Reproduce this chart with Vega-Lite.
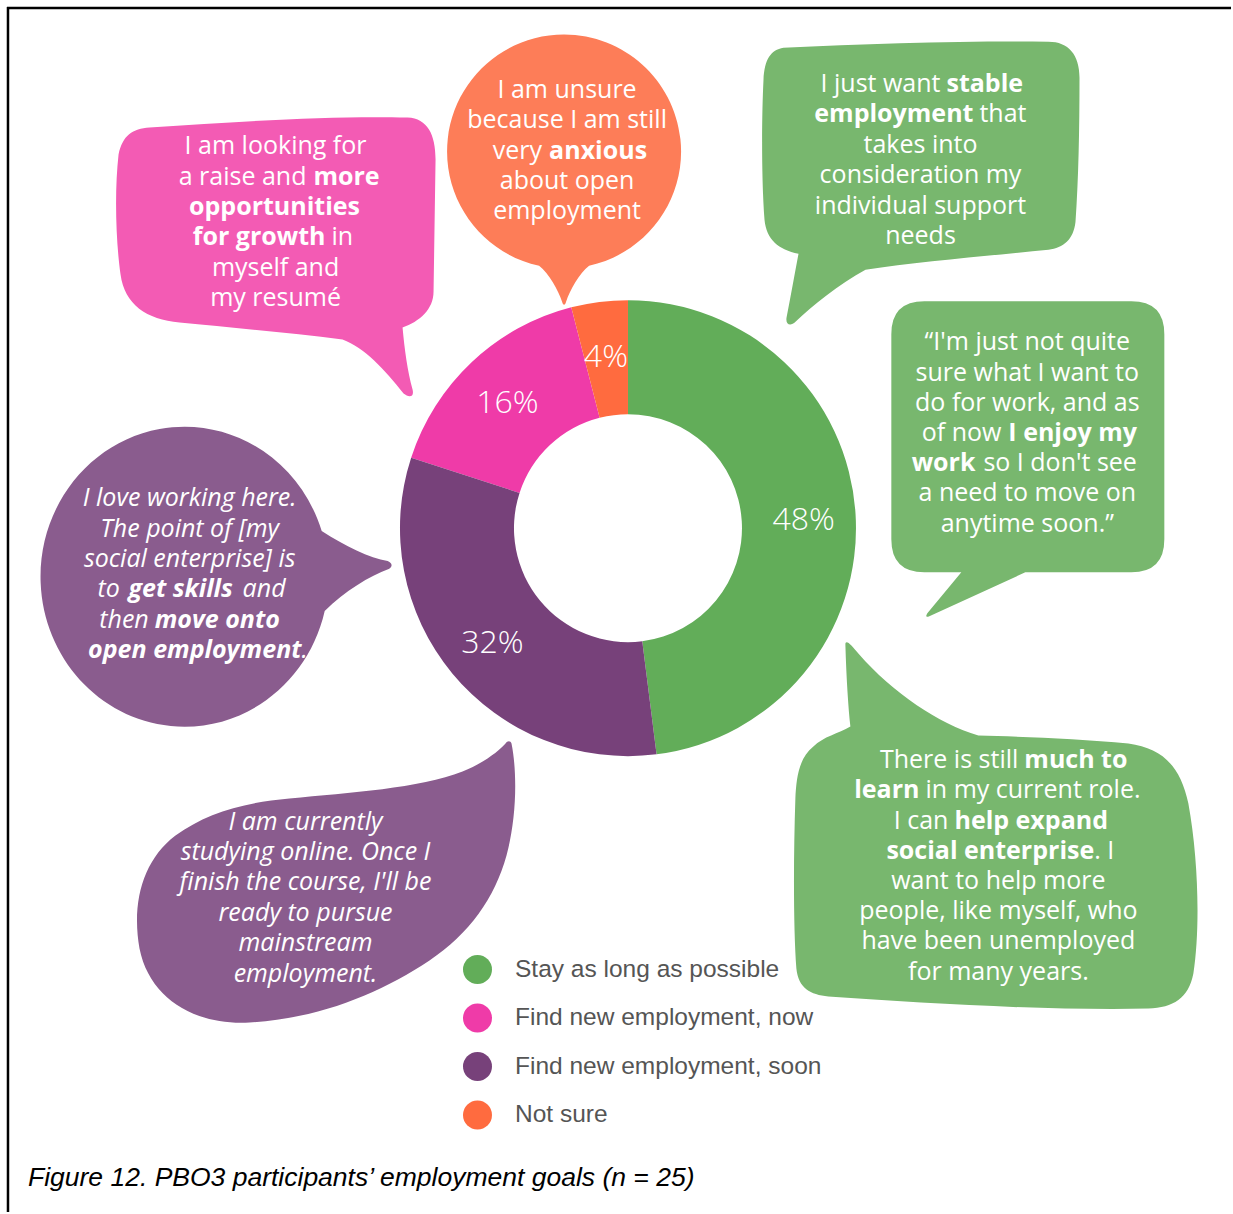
{
  "$schema": "https://vega.github.io/schema/vega-lite/v6.json",
  "width": 1233,
  "height": 1214,
  "autosize": {"type": "fit", "contains": "padding"},
  "padding": 0,
  "background": "white",
  "config": {
    "view": {"stroke": null},
    "axis": {"disable": true},
    "text": {"font": "Open Sans", "fontSize": 25, "color": "white", "lineHeight": 30.4, "baseline": "alphabetic", "align": "center"},
    "point": {"filled": true, "opacity": 1, "size": 4, "strokeWidth": 0}
  },
  "datasets": {
    "goals": [
      {"goal": "Stay as long as possible", "share": 0.48},
      {"goal": "Find new employment, now", "share": 0.16},
      {"goal": "Find new employment, soon", "share": 0.32},
      {"goal": "Not sure", "share": 0.04}
    ]
  },
  "layer": [
    {"data": {"values": [{}]}, "mark": {"type": "rule", "color": "black", "strokeWidth": 2.5},
     "encoding": {"x": {"datum": 7, "type": "quantitative", "scale": {"domain": [0, 1233], "nice": false, "zero": false}},
                  "x2": {"datum": 1233},
                  "y": {"datum": 8, "type": "quantitative", "scale": {"domain": [0, 1214], "nice": false, "zero": false, "reverse": true}}}},
    {"data": {"values": [{}]}, "mark": {"type": "rule", "color": "black", "strokeWidth": 2.5},
     "encoding": {"x": {"datum": 8}, "y": {"datum": 7}, "y2": {"datum": 1214}}},

    {"data": {"values": [{}]}, "mark": {"type": "point", "color": "#F35BB4",
      "shape": "M -125 -127 C -25 -134 65 -139 133 -137 C 153 -136 161 -120 161 -95 L 159 37 C 159 55 145 67 128 73 C 130 95 133 117 138 135 C 140 143 134 143 129 139 C 110 115 90 93 68 85 C 15 78 -45 73 -95 68 C -128 65 -150 50 -154 20 C -159 -15 -160 -65 -156 -100 C -152 -119 -142 -126 -125 -127 Z"},
     "encoding": {"x": {"datum": 275}, "y": {"datum": 255}}},
    {"data": {"values": [{}]}, "mark": {"type": "point", "color": "#FD7D58",
      "shape": "M -25 114 A 117 117 0 1 1 25 114 C 15 122 6 138 2 150 C 1 154 -1 154 -2 150 C -6 138 -15 122 -25 114 Z"},
     "encoding": {"x": {"datum": 565}, "y": {"datum": 152}}},
    {"data": {"values": [{}]}, "mark": {"type": "point", "color": "#78B76E",
      "shape": "M -137 -112 C -52 -116 48 -119 128 -118 C 148 -118 159 -105 159 -82 C 159 -30 158 20 155 62 C 153 80 143 88 128 90 C 68 96 -2 102 -55 110 C -82 125 -107 145 -125 162 C -130 167 -135 165 -134 158 C -130 138 -126 115 -122 94 C -142 90 -154 80 -156 60 C -159 20 -159 -40 -157 -80 C -156 -100 -150 -110 -137 -112 Z"},
     "encoding": {"x": {"datum": 922}, "y": {"datum": 160}}},
    {"data": {"values": [{}]}, "mark": {"type": "point", "color": "#78B76E",
      "shape": "M -103 -135 L 104 -135 Q 137 -135 137 -102 L 137 103 Q 137 136 104 136 L -2 136 L -98 180 Q -103 182 -100 177 L -66 136 L -103 136 Q -136 136 -136 103 L -136 -102 Q -136 -135 -103 -135 Z"},
     "encoding": {"x": {"datum": 1029}, "y": {"datum": 437}}},
    {"data": {"values": [{}]}, "mark": {"type": "point", "color": "#8A5C8E",
      "shape": "M 140 35 A 144 150 0 1 1 137 -45 C 160 -30 185 -18 203 -15 C 208 -13 208 -9 204 -7 C 185 0 160 15 140 35 Z"},
     "encoding": {"x": {"datum": 185}, "y": {"datum": 577}}},
    {"data": {"values": [{}]}, "mark": {"type": "point", "color": "#8A5C8E",
      "shape": "M 206 -155 C 212 -125 211 -80 201 -43 C 189 0 164 35 124 62 C 74 95 14 120 -56 124 C -111 127 -156 100 -166 50 C -174 5 -163 -38 -130 -63 C -100 -85 -63 -96 -16 -100 C 44 -106 114 -110 157 -127 C 179 -136 194 -148 200 -155 C 202 -158 205 -158 206 -155 Z"},
     "encoding": {"x": {"datum": 306}, "y": {"datum": 900}}},
    {"data": {"values": [{}]}, "mark": {"type": "point", "color": "#78B76E",
      "shape": "M -153 -204 C -152 -170 -150 -140 -148 -122 C -160 -115 -175 -112 -185 -102 C -200 -90 -202 -70 -203 -50 C -205 10 -205 80 -202 120 C -200 140 -188 146 -170 148 C -70 155 50 162 150 160 C 175 159 190 150 195 125 C 202 80 200 10 190 -45 C 182 -82 165 -100 130 -105 C 80 -110 20 -112 -20 -113 C -60 -125 -105 -155 -140 -195 C -147 -204 -153 -210 -153 -204 Z"},
     "encoding": {"x": {"datum": 1000}, "y": {"datum": 850}}},

    {"data": {"name": "goals"}, "mark": {"type": "arc", "innerRadius": 114, "outerRadius": 228},
     "encoding": {
       "x": {"datum": 629}, "y": {"datum": 529},
       "theta": {"field": "share", "type": "quantitative", "stack": true},
       "order": {"field": "share", "sort": "descending"},
       "color": {"field": "goal", "type": "nominal",
         "scale": {"domain": ["Stay as long as possible", "Find new employment, now", "Find new employment, soon", "Not sure"],
                   "range": ["#62AD59", "#EF3BA8", "#77417A", "#FF6B3F"]},
         "legend": {"title": null, "orient": "none", "legendX": 463, "legendY": 955, "symbolType": "circle", "symbolSize": 841,
                    "symbolStrokeWidth": 0, "symbolOpacity": 1, "labelFont": "Liberation Sans", "labelFontSize": 24.5,
                    "labelColor": "#555555", "labelOffset": 23, "rowPadding": 19.5, "labelLimit": 500}}
     }},
    {"data": {"name": "goals"}, "mark": {"type": "text", "radius": 176, "fontSize": 32, "fontWeight": 300, "baseline": "middle", "dy": 3},
     "encoding": {
       "x": {"datum": 629}, "y": {"datum": 529},
       "theta": {"field": "share", "type": "quantitative", "stack": true},
       "order": {"field": "share", "sort": "descending"},
       "text": {"field": "share", "type": "quantitative", "format": ".0%"}
     }},

    {"data": {"values": [{}]}, "mark": {"type": "text", "text": "I am looking for"}, "encoding": {"x": {"datum": 276}, "y": {"datum": 154}}},
    {"data": {"values": [{}]}, "mark": {"type": "text", "text": ["myself and", "my resumé"]}, "encoding": {"x": {"datum": 276}, "y": {"datum": 276}}},
    {"data": {"values": [{}]}, "mark": {"type": "text", "fontWeight": "bold", "text": "opportunities"}, "encoding": {"x": {"datum": 275}, "y": {"datum": 215}}},
    {"data": {"values": [{}]}, "mark": {"type": "text", "align": "right", "text": "a raise and"}, "encoding": {"x": {"datum": 307}, "y": {"datum": 185}}},
    {"data": {"values": [{}]}, "mark": {"type": "text", "align": "left", "fontWeight": "bold", "text": "more"}, "encoding": {"x": {"datum": 314}, "y": {"datum": 185}}},
    {"data": {"values": [{}]}, "mark": {"type": "text", "align": "right", "fontWeight": "bold", "text": "for growth"}, "encoding": {"x": {"datum": 326}, "y": {"datum": 245}}},
    {"data": {"values": [{}]}, "mark": {"type": "text", "align": "left", "text": "in"}, "encoding": {"x": {"datum": 332}, "y": {"datum": 245}}},

    {"data": {"values": [{}]}, "mark": {"type": "text", "text": ["I am unsure", "because I am still"]}, "encoding": {"x": {"datum": 568}, "y": {"datum": 98}}},
    {"data": {"values": [{}]}, "mark": {"type": "text", "text": ["about open", "employment"]}, "encoding": {"x": {"datum": 568}, "y": {"datum": 189}}},
    {"data": {"values": [{}]}, "mark": {"type": "text", "align": "right", "text": "very"}, "encoding": {"x": {"datum": 543}, "y": {"datum": 159}}},
    {"data": {"values": [{}]}, "mark": {"type": "text", "align": "left", "fontWeight": "bold", "text": "anxious"}, "encoding": {"x": {"datum": 550}, "y": {"datum": 159}}},

    {"data": {"values": [{}]}, "mark": {"type": "text", "text": ["takes into", "consideration my", "individual support", "needs"]}, "encoding": {"x": {"datum": 922}, "y": {"datum": 153}}},
    {"data": {"values": [{}]}, "mark": {"type": "text", "align": "right", "text": "I just want"}, "encoding": {"x": {"datum": 942}, "y": {"datum": 92}}},
    {"data": {"values": [{}]}, "mark": {"type": "text", "align": "left", "fontWeight": "bold", "text": "stable"}, "encoding": {"x": {"datum": 948}, "y": {"datum": 92}}},
    {"data": {"values": [{}]}, "mark": {"type": "text", "align": "right", "fontWeight": "bold", "text": "employment"}, "encoding": {"x": {"datum": 975}, "y": {"datum": 122}}},
    {"data": {"values": [{}]}, "mark": {"type": "text", "align": "left", "text": "that"}, "encoding": {"x": {"datum": 981}, "y": {"datum": 122}}},

    {"data": {"values": [{}]}, "mark": {"type": "text", "text": ["“I'm just not quite", "sure what I want to", "do for work, and as"]}, "encoding": {"x": {"datum": 1029}, "y": {"datum": 351}}},
    {"data": {"values": [{}]}, "mark": {"type": "text", "text": ["a need to move on", "anytime soon.”"]}, "encoding": {"x": {"datum": 1029}, "y": {"datum": 502}}},
    {"data": {"values": [{}]}, "mark": {"type": "text", "align": "right", "text": "of now"}, "encoding": {"x": {"datum": 1003}, "y": {"datum": 442}}},
    {"data": {"values": [{}]}, "mark": {"type": "text", "align": "left", "fontWeight": "bold", "text": "I enjoy my"}, "encoding": {"x": {"datum": 1010}, "y": {"datum": 442}}},
    {"data": {"values": [{}]}, "mark": {"type": "text", "align": "right", "fontWeight": "bold", "text": "work"}, "encoding": {"x": {"datum": 977}, "y": {"datum": 472}}},
    {"data": {"values": [{}]}, "mark": {"type": "text", "align": "left", "text": "so I don't see"}, "encoding": {"x": {"datum": 985}, "y": {"datum": 472}}},

    {"data": {"values": [{}]}, "mark": {"type": "text", "fontStyle": "italic", "text": ["I love working here.", "The point of [my", "social enterprise] is"]}, "encoding": {"x": {"datum": 190}, "y": {"datum": 507}}},
    {"data": {"values": [{}]}, "mark": {"type": "text", "fontStyle": "italic", "align": "right", "text": "to"}, "encoding": {"x": {"datum": 120}, "y": {"datum": 598}}},
    {"data": {"values": [{}]}, "mark": {"type": "text", "fontStyle": "italic", "fontWeight": "bold", "text": "get skills"}, "encoding": {"x": {"datum": 181}, "y": {"datum": 598}}},
    {"data": {"values": [{}]}, "mark": {"type": "text", "fontStyle": "italic", "align": "left", "text": "and"}, "encoding": {"x": {"datum": 243}, "y": {"datum": 598}}},
    {"data": {"values": [{}]}, "mark": {"type": "text", "fontStyle": "italic", "align": "right", "text": "then"}, "encoding": {"x": {"datum": 149}, "y": {"datum": 629}}},
    {"data": {"values": [{}]}, "mark": {"type": "text", "fontStyle": "italic", "fontWeight": "bold", "align": "left", "text": "move onto"}, "encoding": {"x": {"datum": 155}, "y": {"datum": 629}}},
    {"data": {"values": [{}]}, "mark": {"type": "text", "fontStyle": "italic", "fontWeight": "bold", "align": "right", "text": "open employment"}, "encoding": {"x": {"datum": 302}, "y": {"datum": 659}}},
    {"data": {"values": [{}]}, "mark": {"type": "text", "fontStyle": "italic", "align": "left", "text": "."}, "encoding": {"x": {"datum": 302}, "y": {"datum": 659}}},

    {"data": {"values": [{}]}, "mark": {"type": "text", "fontStyle": "italic", "text": ["I am currently", "studying online. Once I", "finish the course, I'll be", "ready to pursue", "mainstream", "employment."]}, "encoding": {"x": {"datum": 306}, "y": {"datum": 831}}},

    {"data": {"values": [{}]}, "mark": {"type": "text", "text": ["want to help more", "people, like myself, who", "have been unemployed", "for many years."]}, "encoding": {"x": {"datum": 1000}, "y": {"datum": 890}}},
    {"data": {"values": [{}]}, "mark": {"type": "text", "align": "right", "text": "There is still"}, "encoding": {"x": {"datum": 1020}, "y": {"datum": 769}}},
    {"data": {"values": [{}]}, "mark": {"type": "text", "align": "left", "fontWeight": "bold", "text": "much to"}, "encoding": {"x": {"datum": 1026}, "y": {"datum": 769}}},
    {"data": {"values": [{}]}, "mark": {"type": "text", "align": "right", "fontWeight": "bold", "text": "learn"}, "encoding": {"x": {"datum": 921}, "y": {"datum": 799}}},
    {"data": {"values": [{}]}, "mark": {"type": "text", "align": "left", "text": "in my current role."}, "encoding": {"x": {"datum": 927}, "y": {"datum": 799}}},
    {"data": {"values": [{}]}, "mark": {"type": "text", "align": "right", "text": "I can"}, "encoding": {"x": {"datum": 950}, "y": {"datum": 830}}},
    {"data": {"values": [{}]}, "mark": {"type": "text", "align": "left", "fontWeight": "bold", "text": "help expand"}, "encoding": {"x": {"datum": 956}, "y": {"datum": 830}}},
    {"data": {"values": [{}]}, "mark": {"type": "text", "align": "right", "fontWeight": "bold", "text": "social enterprise"}, "encoding": {"x": {"datum": 1096}, "y": {"datum": 860}}},
    {"data": {"values": [{}]}, "mark": {"type": "text", "align": "left", "text": ". I"}, "encoding": {"x": {"datum": 1096}, "y": {"datum": 860}}},

    {"data": {"values": [{}]}, "mark": {"type": "text", "align": "left", "font": "Liberation Sans", "fontStyle": "italic", "fontSize": 26.5, "color": "black",
      "text": "Figure 12. PBO3 participants’ employment goals (n = 25)"},
     "encoding": {"x": {"datum": 28}, "y": {"datum": 1188}}}
  ]
}
